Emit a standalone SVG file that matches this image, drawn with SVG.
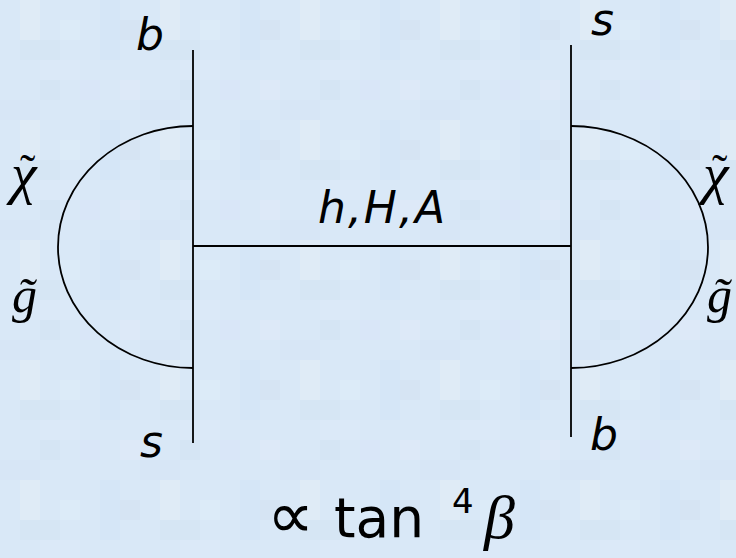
<svg xmlns="http://www.w3.org/2000/svg" width="736" height="558" viewBox="0 0 736 558">
<defs>
<pattern id="tiles" x="0" y="0" width="140" height="120" patternUnits="userSpaceOnUse">
<rect width="140" height="120" fill="#d9e8f7"/>
<rect x="20" y="0" width="20" height="40" fill="#dfebf6"/>
<rect x="60" y="20" width="20" height="20" fill="#dcebf8"/>
<rect x="100" y="0" width="20" height="60" fill="#d5e6f7"/>
<rect x="20" y="40" width="40" height="20" fill="#d6e6f4"/>
<rect x="40" y="80" width="20" height="20" fill="#d5e5f4"/>
<rect x="80" y="80" width="20" height="20" fill="#d9e6f8"/>
<rect x="120" y="80" width="20" height="20" fill="#dde9f8"/>
<rect x="0" y="100" width="40" height="20" fill="#d7e6f6"/>
<rect x="40" y="60" width="40" height="20" fill="#dbe9f8"/>
<rect x="120" y="20" width="20" height="20" fill="#d6e4f3"/>
</pattern>
<style>
.ln{stroke:#000;stroke-width:1.8;fill:none}
.lbl{font-family:"DejaVu Sans",sans-serif;font-style:italic;font-size:44px;fill:#000}
.sp{font-family:"Liberation Serif","DejaVu Serif",serif;font-style:italic;font-size:50px;fill:#000}
.chi{font-family:"Liberation Serif","DejaVu Serif",serif;font-style:italic;font-size:58px;fill:#000}
.tl{font-style:normal;font-size:46px}
</style>
</defs>
<rect width="736" height="558" fill="url(#tiles)"/>
<g id="connectors">
<line class="ln" x1="193" y1="50" x2="193" y2="443"/>
<line class="ln" x1="571" y1="45" x2="571" y2="437"/>
<line class="ln" x1="193" y1="246" x2="571" y2="246"/>
<path class="ln" d="M193,126 A135,121 0 0 0 193,368"/>
<path class="ln" d="M571,126 A137,121 0 0 1 571,368"/>
</g>
<g id="left-quark">
<text class="lbl" x="136" y="50">b</text>
<text class="lbl" x="140" y="457">s</text>
</g>
<g id="right-quark">
<text class="lbl" x="591" y="35">s</text>
<text class="lbl" x="590" y="450">b</text>
</g>
<g id="higgs">
<text class="lbl" x="318" y="223" letter-spacing="2">h,H,A</text>
</g>
<g id="left-loop">
<text class="chi" x="11" y="193">χ<tspan class="tl" x="20" y="186">˜</tspan></text>
<text class="sp" x="12" y="312">g̃</text>
</g>
<g id="right-loop">
<text class="chi" x="703" y="193">χ<tspan class="tl" x="712" y="186">˜</tspan></text>
<text class="sp" x="707" y="312">g̃</text>
</g>
<g id="formula">
<text x="267" y="538" font-family="DejaVu Sans,sans-serif" font-size="66">∝</text>
<text x="334" y="537" font-family="DejaVu Sans,sans-serif" font-size="55">tan</text>
<text x="452" y="513" font-family="DejaVu Sans,sans-serif" font-size="34">4</text>
<text x="484" y="538" font-family="Liberation Serif,serif" font-style="italic" font-size="62">β</text>
</g>
</svg>
